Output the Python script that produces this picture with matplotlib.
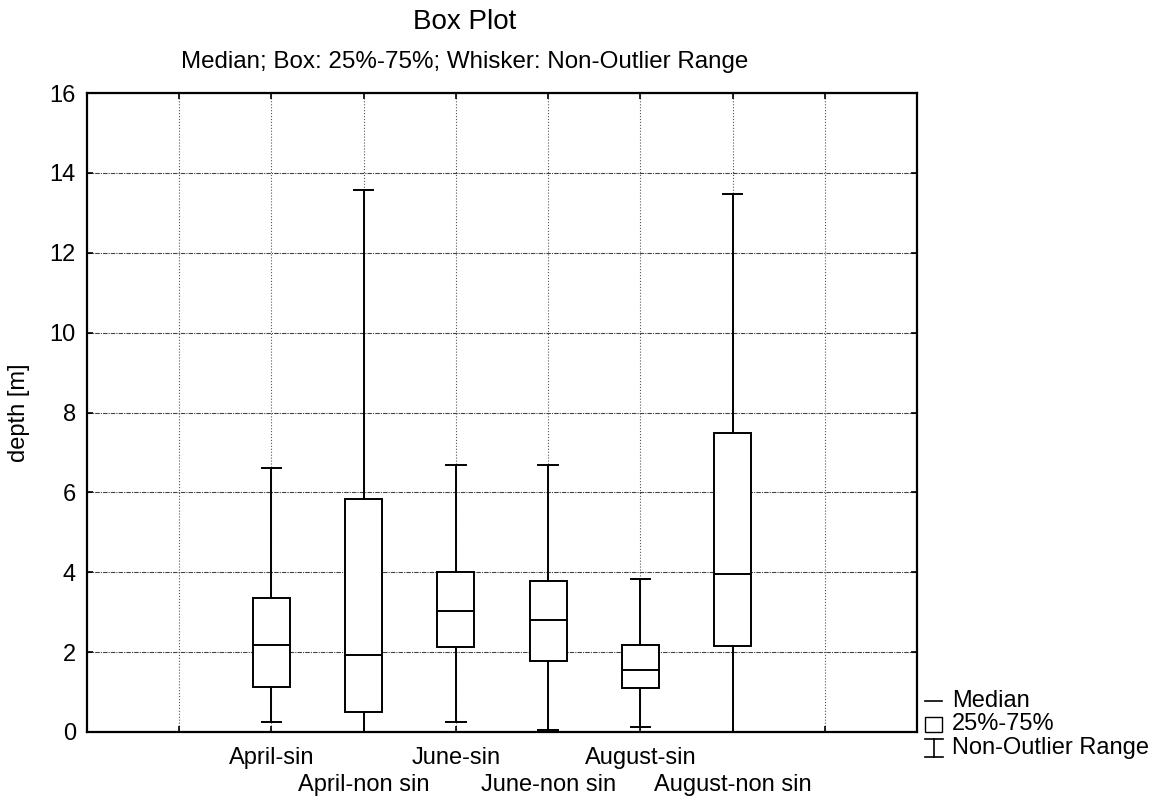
import matplotlib
matplotlib.use('Agg')
import matplotlib.pyplot as plt
from matplotlib.lines import Line2D
from matplotlib.patches import Rectangle
from matplotlib.transforms import ScaledTranslation

plt.rcParams['font.family'] = ['Liberation Sans', 'DejaVu Sans']

names = ['April-sin', 'April-non sin', 'June-sin', 'June-non sin', 'August-sin', 'August-non sin']
medians = [2.19, 1.94, 3.03, 2.80, 1.54, 3.96]
q1 = [1.12, 0.50, 2.12, 1.79, 1.11, 2.16]
q3 = [3.36, 5.83, 4.00, 3.79, 2.19, 7.48]
lo = [0.26, 0.0, 0.26, 0.06, 0.12, 0.0]
hi = [6.62, 13.58, 6.69, 6.68, 3.82, 13.48]
positions = [2, 3, 4, 5, 6, 7]

W, H = 1169, 801
fig = plt.figure(figsize=(W / 100, H / 100), dpi=100)
ax = fig.add_axes([87 / W, 1 - 732 / H, (917 - 87) / W, (732 - 93) / H])

stats = []
for i in range(len(names)):
    stats.append({'med': medians[i], 'q1': q1[i], 'q3': q3[i],
                  'whislo': lo[i], 'whishi': hi[i], 'fliers': [], 'label': names[i]})

lk = dict(color='black', linewidth=1.4)
ax.bxp(stats, positions=positions, widths=0.4, patch_artist=True, showfliers=False,
       boxprops=dict(facecolor='white', edgecolor='black', linewidth=1.4),
       medianprops=lk, whiskerprops=lk, capprops=lk, capwidths=0.21, zorder=3)

ax.set_xlim(0, 9)
ax.set_ylim(0, 16)
ax.set_yticks(range(0, 17, 2))
ax.xaxis.remove_overlapping_locs = False
ax.set_xticks(range(1, 9), minor=False)
ax.set_xticklabels([''] * 8)
ax.set_xticks(positions, minor=True)
ax.set_xticklabels(names, minor=True)
ax.tick_params(axis='x', which='minor', length=0, pad=11, labelsize=17)
ax.tick_params(axis='both', which='major', direction='in', length=4, width=1.2,
               top=True, right=True, labelsize=17)
ax.tick_params(axis='y', pad=8)

# stagger every second category label one row down
shift = ScaledTranslation(0, -0.27, fig.dpi_scale_trans)
for i, t in enumerate(ax.xaxis.get_minor_ticks()):
    if i % 2 == 1:
        t.label1.set_transform(t.label1.get_transform() + shift)

ax.xaxis.grid(True, which='major', color='#555555', linestyle=':', linewidth=0.8)
ax.yaxis.grid(True, color='#444444', linestyle=(0, (4, 1, 1, 1)), linewidth=0.8)
ax.set_axisbelow(True)
for s in ax.spines.values():
    s.set_linewidth(1.6)

ax.set_ylabel('depth [m]', fontsize=17, labelpad=14)

fig.text(465 / W, 1 - 22 / H, 'Box Plot', ha='center', va='center', fontsize=20)
fig.text(465 / W, 1 - 62 / H, 'Median; Box: 25%-75%; Whisker: Non-Outlier Range',
         ha='center', va='center', fontsize=17.4)

# legend drawn by hand on the right
def fx(x):
    return x / W

def fy(y):
    return 1 - y / H

fig.add_artist(Line2D([fx(925), fx(942)], [fy(701), fy(701)], color='black', lw=1.2))
fig.add_artist(Rectangle((fx(925), fy(732)), fx(17), 15 / H, fill=False, edgecolor='black', lw=1.0))
fig.add_artist(Line2D([fx(925), fx(943)], [fy(739), fy(739)], color='black', lw=1.2))
fig.add_artist(Line2D([fx(925), fx(943)], [fy(757), fy(757)], color='black', lw=1.2))
fig.add_artist(Line2D([fx(934), fx(934)], [fy(739), fy(757)], color='black', lw=1.2))
fig.text(fx(952), fy(701), 'Median', va='center', fontsize=17)
fig.text(fx(952), fy(724), '25%-75%', va='center', fontsize=17)
fig.text(fx(952), fy(748), 'Non-Outlier Range', va='center', fontsize=17)

fig.savefig('out.png', dpi=100)
